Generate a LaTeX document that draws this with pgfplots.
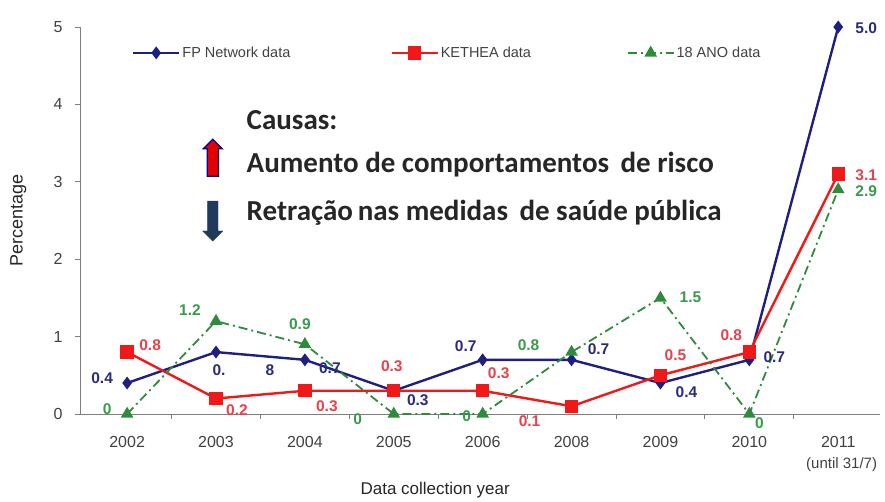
\documentclass[border=0pt]{standalone}
\usepackage{pgfplots}
\pgfplotsset{compat=1.18}
\usepackage{fontspec}
\setmainfont{Liberation Sans}
\newfontfamily\calib{Carlito}
\usetikzlibrary{shapes.arrows}
\definecolor{fpblue}{HTML}{1F1F7F}
\definecolor{kred}{HTML}{F01818}
\definecolor{agreen}{HTML}{2E8B3C}
\definecolor{fplab}{HTML}{2A2A80}
\definecolor{klab}{HTML}{E8404C}
\definecolor{alab}{HTML}{3A9A4A}
\definecolor{axgray}{HTML}{7F7F7F}
\definecolor{txtgray}{HTML}{404040}
\definecolor{darrow}{HTML}{1F3A5C}
\begin{document}
\begin{tikzpicture}
\path[use as bounding box] (-80pt,-88pt) rectangle (805pt,414pt);
\begin{axis}[
  at={(0pt,0pt)}, anchor=south west,
  scale only axis, width=800pt, height=387pt,
  xmin=-0.53, xmax=8.47, ymin=0, ymax=5,
  axis x line*=bottom, axis y line*=left,
  axis line style={axgray, line width=0.8pt},
  every tick/.style={axgray, line width=0.8pt},
  tick align=outside,
  xtick={0,...,8},
  xticklabels={2002,2003,2004,2005,2006,2008,2009,2010,2011},
  x tick style={draw=none},
  minor xtick={0.5,1.5,...,7.5},
  minor x tick style={draw=axgray},
  minor tick length=5pt,
  ytick={0,...,5},
  major tick length=5pt,
  /pgf/number format/assume math mode=true,
  ticklabel style={font=\fontsize{16}{18}\selectfont, text=txtgray},
  xticklabel style={yshift=-14pt},
  yticklabel style={xshift=-9pt},
  clip=false,
  legend style={at={(rel axis cs:0.061,0.933)}, anchor=west, draw=none, fill=none,
    font=\fontsize{14.5}{16}\selectfont, text=txtgray, column sep=0pt},
  legend columns=3, legend cell align=left,
  legend image code/.code={\draw[mark repeat=2,mark phase=2,#1] plot coordinates {(0pt,0pt) (23pt,0pt) (46pt,0pt)};},
]
\addplot[fpblue, line width=2.4pt, mark=diamond*, mark size=4.5pt] coordinates {
 (0,0.4) (1,0.8) (2,0.7) (3,0.3) (4,0.7) (5,0.7) (6,0.4) (7,0.7) (8,5.0)};
\addlegendentry{\makebox[206pt][l]{FP Network data}}
\addplot[kred, line width=2.4pt, mark=square*, mark size=5.5pt] coordinates {
 (0,0.8) (1,0.2) (2,0.3) (3,0.3) (4,0.3) (5,0.1) (6,0.5) (7,0.8) (8,3.1)};
\addlegendentry{\makebox[184pt][l]{KETHEA data}}
\addplot[agreen, line width=1.8pt, dash pattern=on 9pt off 4pt on 2pt off 4pt, mark=triangle*, mark size=5.5pt, mark options={solid}] coordinates {
 (0,0) (1,1.2) (2,0.9) (3,0) (4,0) (5,0.8) (6,1.5) (7,0) (8,2.9)};
\addlegendentry{18 ANO data}

\begin{scope}[every node/.style={font=\bfseries\fontsize{15.5}{17}\selectfont}]
% FP labels
\node[text=fplab] at (axis cs:0,0.4) [xshift=-25pt,yshift=5pt] {0.4};
\node[text=fplab] at (axis cs:1,0.8) [xshift=3pt,yshift=-18pt] {0.};
\node[text=fplab] at (axis cs:1,0.8) [xshift=54pt,yshift=-18pt] {8};
\node[text=fplab] at (axis cs:2,0.7) [xshift=25pt,yshift=-8pt] {0.7};
\node[text=fplab] at (axis cs:3,0.3) [xshift=24pt,yshift=-9pt] {0.3};
\node[text=fplab] at (axis cs:4,0.7) [xshift=-17pt,yshift=14pt] {0.7};
\node[text=fplab] at (axis cs:5,0.7) [xshift=27pt,yshift=11pt] {0.7};
\node[text=fplab] at (axis cs:6,0.4) [xshift=26pt,yshift=-9pt] {0.4};
\node[text=fplab] at (axis cs:7,0.7) [xshift=25pt,yshift=3pt] {0.7};
\node[text=fplab] at (axis cs:8,5.0) [xshift=28pt,yshift=-1pt] {5.0};
% KETHEA labels
\node[text=klab] at (axis cs:0,0.8) [xshift=23pt,yshift=7pt] {0.8};
\node[text=klab] at (axis cs:1,0.2) [xshift=21pt,yshift=-12pt] {0.2};
\node[text=klab] at (axis cs:2,0.3) [xshift=22pt,yshift=-15pt] {0.3};
\node[text=klab] at (axis cs:3,0.3) [xshift=-2pt,yshift=25pt] {0.3};
\node[text=klab] at (axis cs:4,0.3) [xshift=16pt,yshift=18pt] {0.3};
\node[text=klab] at (axis cs:5,0.1) [xshift=-42pt,yshift=-15pt] {0.1};
\node[text=klab] at (axis cs:6,0.5) [xshift=15pt,yshift=20pt] {0.5};
\node[text=klab] at (axis cs:7,0.8) [xshift=-18pt,yshift=17pt] {0.8};
\node[text=klab] at (axis cs:8,3.1) [xshift=28pt,yshift=-1pt] {3.1};
% 18 ANO labels
\node[text=alab] at (axis cs:0,0) [xshift=-20pt,yshift=5pt] {0};
\node[text=alab] at (axis cs:1,1.2) [xshift=-26pt,yshift=11pt] {1.2};
\node[text=alab] at (axis cs:2,0.9) [xshift=-5pt,yshift=20pt] {0.9};
\node[text=alab] at (axis cs:3,0) [xshift=-36pt,yshift=-5pt] {0};
\node[text=alab] at (axis cs:4,0) [xshift=-16pt,yshift=-2pt] {0};
\node[text=alab] at (axis cs:5,0.8) [xshift=-43pt,yshift=7pt] {0.8};
\node[text=alab] at (axis cs:6,1.5) [xshift=30pt,yshift=1pt] {1.5};
\node[text=alab] at (axis cs:7,0) [xshift=10pt,yshift=-9pt] {0};
\node[text=alab] at (axis cs:8,2.9) [xshift=28pt,yshift=-2pt] {2.9};
\end{scope}

% annotation text
\node[anchor=west, font=\calib\bfseries\fontsize{29}{33}\selectfont, text=black!85] at (rel axis cs:0.204,0.760) {Causas:};
\node[anchor=west, font=\calib\bfseries\fontsize{29}{33}\selectfont, text=black!85] at (rel axis cs:0.204,0.645) {Aumento de comportamentos\, de risco};
\node[anchor=west, font=\calib\bfseries\fontsize{29}{33}\selectfont, text=black!85] at (rel axis cs:0.204,0.519) {Retração\,nas medidas\, de saúde pública};
\node[single arrow, fill=red!90!black, draw=blue!55!black, line width=1.2pt, rotate=90,
  minimum height=37pt, inner sep=5pt, single arrow head extend=4pt] at (rel axis cs:0.166,0.655) {};
\node[single arrow, fill=darrow, draw=darrow, rotate=-90,
  minimum height=40pt, inner sep=5pt, single arrow head extend=5pt] at (rel axis cs:0.166,0.505) {};

% extra texts
\node[font=\fontsize{15}{17}\selectfont, text=txtgray] at (rel axis cs:0.952,-0.132) {(until 31/7)};
\node[font=\fontsize{17}{20}\selectfont, text=black!85] at (rel axis cs:0.444,-0.196) {Data collection year};
\node[font=\fontsize{18}{20}\selectfont, text=black!85, rotate=90] at (rel axis cs:-0.077,0.5) {Percentage};
\end{axis}
\end{tikzpicture}
\end{document}
